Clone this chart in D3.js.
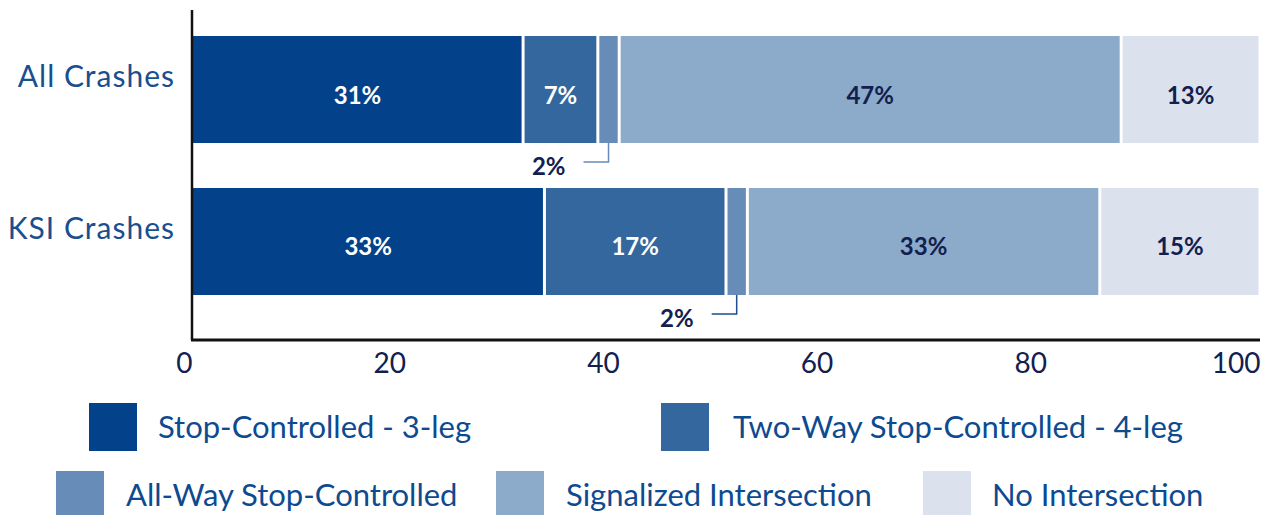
<!DOCTYPE html>
<html>
<head>
<meta charset="utf-8">
<script src="https://cdn.jsdelivr.net/npm/d3@7"></script>
<style>
  html, body { margin: 0; padding: 0; background: #fff; }
  svg { display: block; font-family: Lato, "Noto Sans", sans-serif; }
</style>
</head>
<body>
<svg id="chart" width="1271" height="515"></svg>
<script>
// Crash groups (rows) and intersection types (stacked segments)
const categories = ["All Crashes", "KSI Crashes"];
const seriesNames = [
  "Stop-Controlled - 3-leg",
  "Two-Way Stop-Controlled - 4-leg",
  "All-Way Stop-Controlled",
  "Signalized Intersection",
  "No Intersection"
];
// Share of crashes (%) for each series, one value per category
const stop3Leg    = [31, 33];
const twoWay4Leg  = [7, 17];
const allWayStop  = [2, 2];
const signalized  = [47, 33];
const noIntersect = [13, 15];
const seriesValues = [stop3Leg, twoWay4Leg, allWayStop, signalized, noIntersect];

const seriesColors = ["#03428a", "#35679f", "#678cb8", "#8caac9", "#dbe2ed"];
const labelColors  = ["#ffffff", "#ffffff", "#13204f", "#13204f", "#13204f"];
const leaderColors = ["#678cb8", "#1f4e8c"];
const xTicks = [0, 20, 40, 60, 80, 100];

const svg = d3.select("#chart");
const left = 192, right = 1260, axisY = 340, axisTop = 10;

const x = d3.scaleLinear().domain([0, 100]).range([left, right]);
const y = d3.scaleBand().domain(categories).range([36, 295])
  .paddingInner(0.296).paddingOuter(0);

// Build stack rows: one object per category with a key per series
const rows = categories.map((c, i) => {
  const r = { category: c };
  seriesNames.forEach((s, j) => { r[s] = seriesValues[j][i]; });
  return r;
});
const stacked = d3.stack().keys(seriesNames)(rows);

const gap = 1.5; // white gap half-width between segments

const layers = svg.append("g").selectAll("g")
  .data(stacked)
  .join("g")
  .attr("fill", (d, i) => seriesColors[i]);

layers.selectAll("rect")
  .data(d => d.map(p => ({ p, key: d.key, idx: d.index })))
  .join("rect")
  .attr("x", d => x(d.p[0]) + (d.p[0] > 0 ? gap : 0))
  .attr("y", d => y(d.p.data.category))
  .attr("width", d => x(d.p[1]) - x(d.p[0]) - gap - (d.p[0] > 0 ? gap : 0))
  .attr("height", y.bandwidth());

// Value labels: inside the segment, or with a leader line below for thin ones
const labelG = svg.append("g")
  .attr("font-weight", 700)
  .attr("font-size", 24);

stacked.forEach((layer, si) => {
  layer.forEach((p, ci) => {
    const v = p[1] - p[0];
    const cx = (x(p[0]) + x(p[1])) / 2;
    const top = y(p.data.category);
    const bottom = top + y.bandwidth();
    if (v >= 5) {
      labelG.append("text")
        .attr("x", cx)
        .attr("y", top + y.bandwidth() / 2 + 14)
        .attr("text-anchor", "middle")
        .attr("fill", labelColors[si])
        .text(v + "%");
    } else {
      const ly = bottom + 19;
      const lx = cx - 25;
      svg.append("path")
        .attr("d", `M${cx},${bottom}V${ly}H${lx}`)
        .attr("fill", "none")
        .attr("stroke", leaderColors[ci])
        .attr("stroke-width", 1.5);
      labelG.append("text")
        .attr("x", lx - 18)
        .attr("y", ly + 13)
        .attr("text-anchor", "end")
        .attr("fill", "#13204f")
        .text(v + "%");
    }
  });
});

// Category labels
svg.append("g").selectAll("text")
  .data(categories)
  .join("text")
  .attr("x", 175)
  .attr("y", d => y(d) + y.bandwidth() / 2 - 2.5)
  .attr("text-anchor", "end")
  .attr("font-size", 30)
  .attr("letter-spacing", 1)
  .attr("fill", "#1a4f8f")
  .text(d => d);

// Axes
const xAxis = d3.axisBottom(x).tickValues(xTicks).tickSize(0).tickPadding(0);
const gx = svg.append("g").attr("transform", `translate(0,${axisY})`).call(xAxis);
gx.select(".domain").remove();
gx.selectAll("text")
  .attr("text-anchor", "end")
  .attr("dy", null)
  .attr("y", 33)
  .attr("font-family", "Lato, 'Noto Sans', sans-serif")
  .attr("font-size", 28)
  .attr("fill", "#13204f");

svg.append("line")
  .attr("x1", left).attr("x2", left)
  .attr("y1", axisTop).attr("y2", axisY)
  .attr("stroke", "#111").attr("stroke-width", 2.5);
svg.append("line")
  .attr("x1", left - 1).attr("x2", right)
  .attr("y1", axisY).attr("y2", axisY)
  .attr("stroke", "#111").attr("stroke-width", 3);

// Legend
const legendPos = [
  { sx: 89,  tx: 158, y: 403 },
  { sx: 661, tx: 733, y: 403 },
  { sx: 56,  tx: 126, y: 471 },
  { sx: 496, tx: 566, y: 471 },
  { sx: 923, tx: 992, y: 471 }
];
const legend = svg.append("g").selectAll("g")
  .data(seriesNames)
  .join("g");
legend.append("rect")
  .attr("x", (d, i) => legendPos[i].sx)
  .attr("y", (d, i) => legendPos[i].y)
  .attr("width", 48).attr("height", 48)
  .attr("fill", (d, i) => seriesColors[i]);
legend.append("text")
  .attr("x", (d, i) => legendPos[i].tx)
  .attr("y", (d, i) => legendPos[i].y + 35)
  .attr("font-size", 31)
  .attr("fill", "#0d4a8f")
  .text(d => d);
</script>
</body>
</html>
